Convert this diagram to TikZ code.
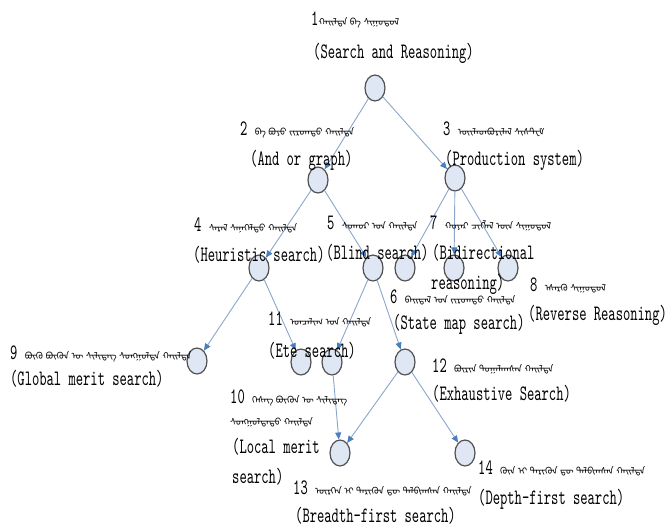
\documentclass[tikz,border=0pt]{standalone}
\usepackage{fontspec}
\setmonofont{lmmono10-regular.otf}[FakeStretch=0.632]
\newfontfamily\mong[Script=Mongolian]{Noto Sans Mongolian}
\usetikzlibrary{shapes.geometric,arrows.meta}
\definecolor{nodefill}{HTML}{DFE7F4}
\definecolor{nodeline}{HTML}{505050}
\definecolor{edgeline}{HTML}{8AA6CC}
\definecolor{tipblue}{HTML}{4A7EBF}
\tikzset{
  tnode/.style={ellipse,draw=nodeline,line width=1.2pt,fill=nodefill,minimum width=20pt,minimum height=26pt,inner sep=0pt},
  edge/.style={draw=edgeline,line width=0.9pt,-{Triangle[length=7pt,width=6pt,color=tipblue,fill=tipblue]}},
  eng/.style={anchor=base west,inner sep=0pt,font=\ttfamily\fontsize{22}{24}\selectfont},
  mlab/.style={anchor=base west,inner sep=0pt,font=\ttfamily\fontsize{22}{24}\selectfont},
}
\newcommand{\mg}[1]{{\mong\fontsize{9.5}{10}\selectfont #1}}
\begin{document}
\begin{tikzpicture}[x=1pt,y=-1pt]
\useasboundingbox (0,0) rectangle (668,527);
% nodes
\node[tnode] (n1) at (375,88) {};
\node[tnode] (n2) at (318,180) {};
\node[tnode] (n3) at (455,178) {};
\node[tnode] (n4) at (259,268) {};
\node[tnode] (n5) at (373,268) {};
\node[tnode] (n3a) at (405,268) {};
\node[tnode] (n3b) at (454,268) {};
\node[tnode] (n3c) at (508,268) {};
\node[tnode] (n9) at (197,361) {};
\node[tnode] (n10) at (301,362) {};
\node[tnode] (n11) at (332,362) {};
\node[tnode] (n12) at (405,362) {};
\node[tnode] (n13) at (340,453) {};
\node[tnode] (n14) at (465,453) {};
% edges
\draw[edge] (n1) -- (n2);
\draw[edge] (n1) -- (n3);
\draw[edge] (n2) -- (n4);
\draw[edge] (n2) -- (n5);
\draw[edge] (n3) -- (n3a);
\draw[edge] (n3) -- (n3b);
\draw[edge] (n3) -- (n3c);
\draw[edge] (n4) -- (n9);
\draw[edge] (n4) -- (n10);
\draw[edge] (n5) -- (n11);
\draw[edge] (n5) -- (n12);
\draw[edge] (n11) -- (n13);
\draw[edge] (n12) -- (n13);
\draw[edge] (n12) -- (n14);
% labels
\node[mlab] (l1m) at (311,26) {1\mg{ᠬᠠᠢᠯᠲᠠ ᠪᠠ ᠰᠢᠭᠤᠳᠤᠯ}};
\node[eng] (l1e) at (313,58) {(Search and Reasoning)};
\node[mlab] (l2m) at (240,135) {2 \mg{ᠪᠠ ᠪᠤᠶᠤ ᠵᠢᠷᠤᠭᠲᠤ ᠬᠠᠢᠯᠲᠠ}};
\node[eng] (l2e) at (250,165) {(And or graph)};
\node[mlab] (l3m) at (443,135) {3 \mg{ᠦᠢᠯᠡᠳᠪᠦᠷᠢᠯᠡᠯ ᠰᠢᠰᠲ᠋ᠧᠮ}};
\node[eng] (l3e) at (445,165) {(Production system)};
\node[mlab] (l4m) at (194,231) {4 \mg{ᠰᠡᠷᠡᠯ ᠰᠡᠨᠡᠭᠡᠯᠲᠦ ᠬᠠᠢᠯᠲᠠ}};
\node[eng] (l4e) at (193,261) {(Heuristic search)};
\node[mlab] (l5m) at (327,229) {5 \mg{ᠰᠣᠬᠣᠷ ᠤᠨ ᠬᠠᠢᠯᠲᠠ}};
\node[eng] (l5e) at (326,259) {(Blind search)};
\node[mlab] (l7m) at (430,229) {7 \mg{ᠬᠣᠶᠠᠷ ᠴᠢᠭᠯᠡᠯ ᠦᠨ ᠰᠢᠭᠤᠳᠤᠯ}};
\node[eng] (l7e) at (432,259) {(Bidirectional};
\node[eng] (l7f) at (431,289) {reasoning)};
\node[mlab] (l6m) at (390,303) {6 \mg{ᠪᠠᠢᠳᠠᠯ ᠤᠨ ᠵᠢᠷᠤᠭᠲᠤ ᠬᠠᠢᠯᠲᠠ}};
\node[eng] (l6e) at (393,329) {(State map search)};
\node[mlab] (l8m) at (530,291) {8 \mg{ᠡᠰᠡᠷᠭᠦ ᠰᠢᠭᠤᠳᠤᠯ}};
\node[eng] (l8e) at (528,320) {(Reverse Reasoning)};
\node[mlab] (l9m) at (10,359) {9 \mg{ᠪᠦᠬᠦ ᠪᠦᠬᠦᠨ ᠦ ᠰᠢᠯᠢᠳᠡᠭ ᠰᠣᠩᠭᠣᠯᠲᠠ ᠬᠠᠢᠯᠲᠠ}};
\node[eng] (l9e) at (10,385) {(Global merit search)};
\node[mlab] (l11m) at (268,325) {11 \mg{ᠣᠨᠴᠠᠯᠢᠭ ᠤᠨ ᠬᠠᠢᠯᠲᠠ}};
\node[eng] (l11e) at (268,357) {(Ete search)};
\node[mlab] (l10m) at (230,403) {10 \mg{ᠬᠡᠰᠡᠭ ᠪᠦᠬᠦᠨ ᠦ ᠰᠢᠯᠢᠳᠡᠭ}};
\node[mlab] (l10n) at (230,425) {\mg{ᠰᠣᠩᠭᠣᠯᠲᠠᠲᠤ ᠬᠠᠢᠯᠲᠠ}};
\node[eng] (l10e) at (232,453) {(Local merit};
\node[eng] (l10f) at (232,483) {search)};
\node[mlab] (l12m) at (432,372) {12 \mg{ᠪᠦᠷᠢᠨ ᠲᠣᠭᠠᠯᠠᠭᠰᠠᠨ ᠬᠠᠢᠯᠲᠠ}};
\node[eng] (l12e) at (432,400) {(Exhaustive Search)};
\node[mlab] (l13m) at (293,494) {13 \mg{ᠥᠷᠭᠡᠨ ᠢ ᠲᠡᠷᠢᠭᠦᠨ ᠳᠦ ᠲᠠᠯᠪᠢᠭᠰᠠᠨ ᠬᠠᠢᠯᠲᠠ}};
\node[eng] (l13e) at (295,522) {(Breadth-first search)};
\node[mlab] (l14m) at (478,474) {14 \mg{ᠭᠦᠨ ᠢ ᠲᠡᠷᠢᠭᠦᠨ ᠳᠦ ᠲᠠᠯᠪᠢᠭᠰᠠᠨ ᠬᠠᠢᠯᠲᠠ}};
\node[eng] (l14e) at (478,504) {(Depth-first search)};
\end{tikzpicture}
\end{document}
